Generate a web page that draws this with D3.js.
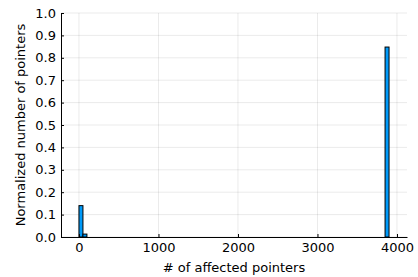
<!DOCTYPE html>
<html>
<head>
<meta charset="utf-8">
<script src="https://cdn.jsdelivr.net/npm/d3@7"></script>
<style>
  body { margin: 0; background: #fff; }
  text { font-family: "DejaVu Sans", sans-serif; }
</style>
</head>
<body>
<svg width="418" height="277"></svg>
<script>
// histogram bins (start, end) and normalized counts
const binStarts = [0, 50, 3850];
const binEnds = [50, 100, 3900];
const binValues = [0.14, 0.013, 0.848];
const xTicks = [0, 1000, 2000, 3000, 4000];
const yTicks = [0, 0.1, 0.2, 0.3, 0.4, 0.5, 0.6, 0.7, 0.8, 0.9, 1.0];

const bins = binStarts.map((s, i) => ({x0: s, x1: binEnds[i], v: binValues[i]}));

const svg = d3.select("svg"),
      margin = {top: 13, right: 11, bottom: 40, left: 61},
      width = 418 - margin.left - margin.right,
      height = 277 - margin.top - margin.bottom;

const g = svg.append("g").attr("transform", `translate(${margin.left},${margin.top})`);

const x = d3.scaleLinear().domain([-226, 4126]).range([0, width]);
const y = d3.scaleLinear().domain([0, 1]).range([height, 0]);

// grid
g.append("g").selectAll("line").data(xTicks).enter().append("line")
  .attr("x1", d => x(d)).attr("x2", d => x(d))
  .attr("y1", 0).attr("y2", height)
  .attr("stroke", "#000").attr("stroke-opacity", 0.12).attr("stroke-width", 0.7);
g.append("g").selectAll("line").data(yTicks).enter().append("line")
  .attr("x1", 0).attr("x2", width)
  .attr("y1", d => y(d)).attr("y2", d => y(d))
  .attr("stroke", "#000").attr("stroke-opacity", 0.12).attr("stroke-width", 0.7);

// bars
g.selectAll(".bar").data(bins).enter().append("rect")
  .attr("class", "bar")
  .attr("x", d => x(d.x0))
  .attr("width", d => x(d.x1) - x(d.x0))
  .attr("y", d => y(d.v))
  .attr("height", d => y(0) - y(d.v))
  .attr("fill", "#009af9")
  .attr("stroke", "#000")
  .attr("stroke-width", 1);

// axes (ticks point inward, Plots.jl style)
const xAxis = g.append("g")
  .attr("transform", `translate(0,${height})`)
  .call(d3.axisBottom(x).tickValues(xTicks).tickFormat(d3.format("d")).tickSize(-3).tickPadding(6).tickSizeOuter(0));
const yAxis = g.append("g")
  .call(d3.axisLeft(y).tickValues(yTicks).tickFormat(d3.format(".1f")).tickSize(-3).tickPadding(5).tickSizeOuter(0));

[xAxis, yAxis].forEach(a => {
  a.select(".domain").attr("stroke", "#000").attr("stroke-width", 1);
  a.selectAll(".tick line").attr("stroke", "#000");
  a.selectAll("text").style("font-size", "13px").attr("fill", "#000")
    .style("font-family", "DejaVu Sans, sans-serif");
});

// X-axis label
svg.append("text")
  .attr("x", margin.left + width / 2)
  .attr("y", 272)
  .attr("text-anchor", "middle")
  .style("font-size", "13px")
  .text("# of affected pointers");

// Y-axis label
svg.append("text")
  .attr("transform", "rotate(-90)")
  .attr("x", -(margin.top + height / 2))
  .attr("y", 25)
  .attr("text-anchor", "middle")
  .style("font-size", "13px")
  .text("Normalized number of pointers");
</script>
</body>
</html>
